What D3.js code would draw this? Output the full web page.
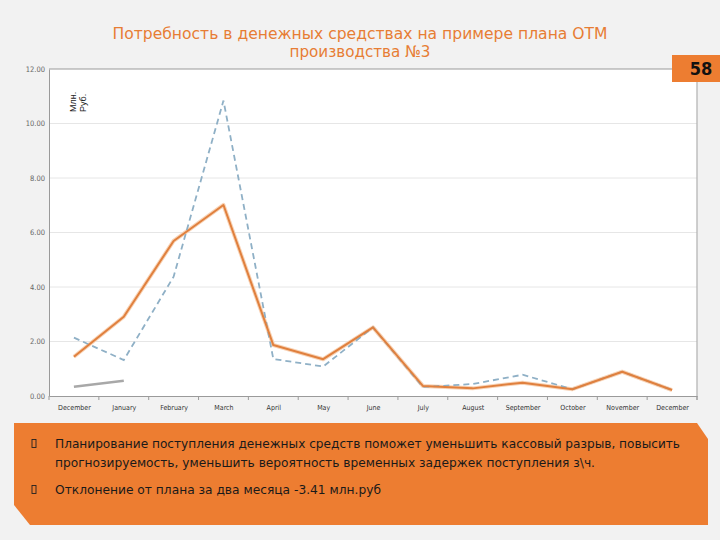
<!DOCTYPE html>
<html><head><meta charset="utf-8">
<script src="https://cdn.jsdelivr.net/npm/d3@7"></script>
<style>html,body{margin:0;padding:0;background:#f2f2f2;}svg{display:block;}</style>
</head><body>
<script>
const months = ["December","January","February","March","April","May","June","July","August","September","October","November","December"];
const planValues = [2.14, 1.32, 4.38, 10.84, 1.36, 1.08, 2.52, 0.33, 0.44, 0.78, 0.25, 0.89, 0.22];
const factValues = [1.44, 2.91, 5.69, 7.01, 1.87, 1.35, 2.52, 0.37, 0.28, 0.49, 0.25, 0.89, 0.22];
const prevValues = [0.34, 0.56];
const yTicks = [0, 2, 4, 6, 8, 10, 12];
const titleLines = ["Потребность в денежных средствах на примере плана ОТМ", "производства №3"];
const bullets = [
  ["Планирование поступления денежных средств поможет уменьшить кассовый разрыв, повысить",
   "прогнозируемость, уменьшить вероятность временных задержек поступления з\\ч."],
  ["Отклонение от плана за два месяца -3.41 млн.руб"]
];
const unitLabel = ["Млн.", "Руб."];
const pageNumber = "58";

const W = 720, H = 540;
const svg = d3.select("body").append("svg").attr("width", W).attr("height", H);
svg.append("rect").attr("width", W).attr("height", H).attr("fill", "#f2f2f2");

const L = 49, R = 697, T = 69, B = 396;
const idx = months.map((m, i) => i);
const x = d3.scalePoint().domain(idx).range([L, R]).padding(0.5);
const y = d3.scaleLinear().domain([0, 12]).range([B, T]);

// title
const orange = "#E77D34";
const titleW = [495, 141];
svg.append("g").selectAll("text").data(titleLines).join("text")
  .attr("x", 360).attr("y", (d, i) => 39 + i * 18)
  .attr("text-anchor", "middle")
  .attr("font-family", "'DejaVu Sans Condensed','DejaVu Sans',sans-serif")
  .attr("font-size", 16).attr("fill", orange)
  .attr("textLength", (d, i) => titleW[i]).attr("lengthAdjust", "spacingAndGlyphs")
  .text(d => d);

// plot background
svg.append("rect").attr("x", L).attr("y", T).attr("width", R - L).attr("height", B - T).attr("fill", "#ffffff");

// gridlines
svg.append("g").selectAll("line").data(yTicks.filter(t => t > 0 && t < 12)).join("line")
  .attr("x1", L).attr("x2", R).attr("y1", d => y(d)).attr("y2", d => y(d))
  .attr("stroke", "#e6e6e6").attr("stroke-width", 1);
svg.append("line").attr("x1", L).attr("x2", R).attr("y1", y(12)).attr("y2", y(12))
  .attr("stroke", "#9a9a9a").attr("stroke-width", 1.2);
svg.append("line").attr("x1", R).attr("x2", R).attr("y1", T).attr("y2", B + 4)
  .attr("stroke", "#b0b0b0").attr("stroke-width", 1.2);

// y axis
const yAxis = d3.axisLeft(y).tickValues(yTicks).tickFormat(d3.format(".2f")).tickSize(0).tickPadding(4);
const gy = svg.append("g").attr("transform", `translate(${L},0)`).call(yAxis);
gy.select(".domain").attr("stroke", "#9a9a9a");
gy.selectAll("text").attr("font-family", "'DejaVu Sans Condensed','DejaVu Sans',sans-serif")
  .attr("font-size", 7.5).attr("fill", "#666");

// x axis
const xAxis = d3.axisBottom(x).tickFormat(i => months[i]).tickSize(0).tickPadding(9);
const gx = svg.append("g").attr("transform", `translate(0,${B})`).call(xAxis);
gx.select(".domain").attr("stroke", "#9a9a9a").attr("stroke-width", 1.2);
gx.selectAll("text").attr("font-family", "'DejaVu Sans Condensed','DejaVu Sans',sans-serif")
  .attr("font-size", 7).attr("fill", "#333");
const step = x.step();
gx.append("g").selectAll("line").data(d3.range(months.length + 1)).join("line")
  .attr("x1", d => L + d * step).attr("x2", d => L + d * step)
  .attr("y1", 0).attr("y2", 4).attr("stroke", "#9a9a9a");

// unit label
const ul = svg.append("text").attr("transform", "translate(76,112) rotate(-90)")
  .attr("font-family", "'Liberation Sans',Arial,sans-serif").attr("font-size", 9).attr("fill", "#222");
unitLabel.forEach((t, i) => ul.append("tspan").attr("x", 0).attr("dy", i === 0 ? 0 : 10).text(t));

// lines
const line = d3.line().x((d, i) => x(i)).y(d => y(d));
svg.append("path").datum(prevValues).attr("d", line).attr("fill", "none")
  .attr("stroke", "#a8a8a8").attr("stroke-width", 2.5);
svg.append("path").datum(factValues).attr("d", line).attr("fill", "none")
  .attr("stroke", "#f8d3b6").attr("stroke-width", 4).attr("stroke-linejoin", "round");
svg.append("path").datum(planValues).attr("d", line).attr("fill", "none")
  .attr("stroke", "#8fb0c6").attr("stroke-width", 1.8).attr("stroke-dasharray", "6,4");
svg.append("path").datum(factValues).attr("d", line).attr("fill", "none")
  .attr("stroke", "#E0803E").attr("stroke-width", 2).attr("stroke-linejoin", "round");

// page badge
svg.append("rect").attr("x", 672).attr("y", 55).attr("width", 48).attr("height", 27).attr("fill", "#ED7D31");
svg.append("text").attr("x", 701).attr("y", 75).attr("text-anchor", "middle")
  .attr("font-family", "'DejaVu Sans Condensed','DejaVu Sans',sans-serif").attr("font-weight", "bold")
  .attr("font-size", 18).attr("fill", "#111").text(pageNumber);

// bottom box
svg.append("path").attr("d", "M14,423 L697,423 L708,439 L708,525 L30,525 L14,505 Z").attr("fill", "#ED7D31");
const lineYs = [[448, 467], [494]];
const widths = [[625, 540], [326]];
bullets.forEach((b, bi) => {
  svg.append("rect").attr("x", 32).attr("y", lineYs[bi][0] - 8.5).attr("width", 4).attr("height", 8)
    .attr("fill", "none").attr("stroke", "#222").attr("stroke-width", 0.9);
  b.forEach((t, li) => {
    svg.append("text").attr("x", 55).attr("y", lineYs[bi][li])
      .attr("font-family", "'DejaVu Sans Condensed','DejaVu Sans',sans-serif")
      .attr("font-size", 13).attr("fill", "#1a1a1a")
      .attr("textLength", widths[bi][li]).attr("lengthAdjust", "spacingAndGlyphs")
      .text(t);
  });
});
</script>
</body></html>
